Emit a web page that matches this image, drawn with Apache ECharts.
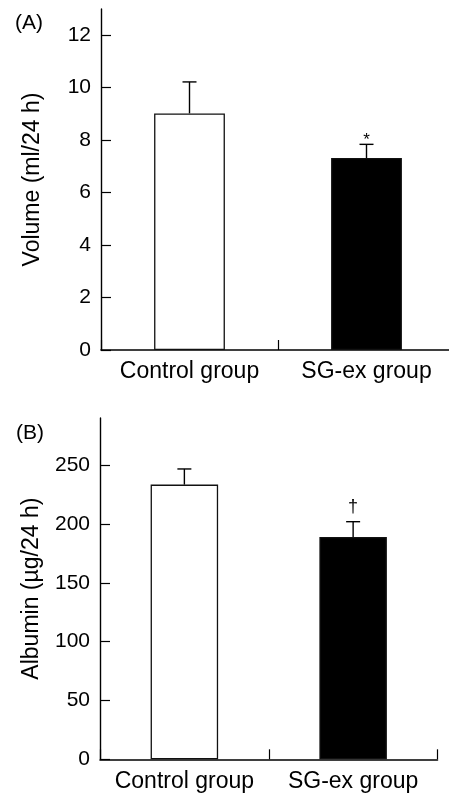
<!DOCTYPE html>
<html>
<head>
<meta charset="utf-8">
<script src="https://cdn.jsdelivr.net/npm/echarts@6/dist/echarts.min.js"></script>
<style>
html,body{margin:0;padding:0;background:#fff;}
#chart{width:449px;height:794px;}
</style>
</head>
<body>
<div id="chart"></div>
<script>
// ---- data ----
const categories = ['Control group', 'SG-ex group'];
const volumeMean = [9.02, 7.32];
const volumeUpper = [10.22, 7.84];
const volumeMarks = ['', '*'];
const volumeTicks = [0, 2, 4, 6, 8, 10, 12];
const albuminMean = [233.4, 188.9];
const albuminUpper = [246.7, 201.9];
const albuminMarks = ['', '\u2020'];
const albuminTicks = [0, 50, 100, 150, 200, 250];
const barColors = ['#ffffff', '#000000'];

const FONT = "'Liberation Sans', Arial, sans-serif";
const chart = echarts.init(document.getElementById('chart'), null, {renderer: 'canvas'});

function errData(means, uppers) {
  return means.map((m, i) => [i, m, uppers[i]]);
}

function makeRender(marks, markSize, markOffset) {
  return function (params, api) {
    const i = api.value(0);
    const base = api.coord([i, api.value(1)]);
    const top = api.coord([i, api.value(2)]);
    const half = 7;
    const children = [
      {type: 'line', shape: {x1: base[0], y1: base[1], x2: top[0], y2: top[1]},
       style: {stroke: '#000', lineWidth: 1.4}},
      {type: 'line', shape: {x1: top[0] - half, y1: top[1], x2: top[0] + half, y2: top[1]},
       style: {stroke: '#000', lineWidth: 1.4}}
    ];
    const txt = marks[params.dataIndex];
    if (txt) {
      children.push({type: 'text', x: top[0], y: top[1] - markOffset,
        style: {text: txt, fill: '#000', font: markSize + 'px ' + FONT,
                align: 'center', verticalAlign: 'middle'}});
    }
    return {type: 'group', children: children};
  };
}

function yAxisDef(gridIndex, max, interval, ticks, name, nameGap) {
  return {
    type: 'value', gridIndex: gridIndex, min: 0, max: max, interval: interval,
    name: name, nameLocation: 'middle', nameRotate: 90, nameGap: nameGap,
    nameTextStyle: {fontFamily: FONT, fontSize: 23, color: '#000'},
    axisLine: {show: true, lineStyle: {color: '#000', width: 1.4}},
    axisTick: {show: true, inside: true, length: 10, customValues: ticks,
               lineStyle: {color: '#000', width: 1.2}},
    axisLabel: {show: true, margin: 10, customValues: ticks, fontFamily: FONT,
                fontSize: 21, color: '#000'},
    splitLine: {show: false}
  };
}

function xAxisDef(gridIndex, margin) {
  return {
    type: 'category', gridIndex: gridIndex, data: categories, boundaryGap: true,
    axisLine: {show: true, onZero: false, lineStyle: {color: '#000', width: 1.6}},
    axisTick: {show: true, inside: true, length: 10, interval: 0, alignWithLabel: false,
               lineStyle: {color: '#000', width: 1.2}},
    axisLabel: {show: true, interval: 0, margin: margin, fontFamily: FONT, fontSize: 23, color: '#000'},
    splitLine: {show: false}
  };
}

function barData(values) {
  return values.map((v, i) => ({value: v, itemStyle: {color: barColors[i]}}));
}

const option = {
  animation: false,
  backgroundColor: '#ffffff',
  title: [
    {text: '(A)', left: 15, top: 13, padding: 0,
     textStyle: {fontFamily: FONT, fontSize: 21, fontWeight: 'normal', color: '#000'}},
    {text: '(B)', left: 16, top: 423, padding: 0,
     textStyle: {fontFamily: FONT, fontSize: 21, fontWeight: 'normal', color: '#000'}}
  ],
  grid: [
    {left: 101, top: 9, width: 354, height: 341, outerBoundsMode: 'none', containLabel: false},
    {left: 100, top: 418, width: 337.5, height: 341.3, outerBoundsMode: 'none', containLabel: false}
  ],
  xAxis: [xAxisDef(0, 10), xAxisDef(1, 10.5)],
  yAxis: [
    yAxisDef(0, 13, 2, volumeTicks, 'Volume (ml/24 h)', 57),
    yAxisDef(1, 290, 50, albuminTicks, 'Albumin (\u00b5g/24 h)', 57)
  ],
  series: [
    {type: 'bar', xAxisIndex: 0, yAxisIndex: 0, barWidth: '40%', data: barData(volumeMean),
     itemStyle: {borderColor: '#111', borderWidth: 1.3}, z: 2},
    {type: 'custom', xAxisIndex: 0, yAxisIndex: 0, renderItem: makeRender(volumeMarks, 17, 4),
     data: errData(volumeMean, volumeUpper), z: 3},
    {type: 'bar', xAxisIndex: 1, yAxisIndex: 1, barWidth: '40%', data: barData(albuminMean),
     itemStyle: {borderColor: '#111', borderWidth: 1.3}, z: 2},
    {type: 'custom', xAxisIndex: 1, yAxisIndex: 1, renderItem: makeRender(albuminMarks, 18, 15),
     data: errData(albuminMean, albuminUpper), z: 3}
  ]
};
chart.setOption(option);
</script>
</body>
</html>
